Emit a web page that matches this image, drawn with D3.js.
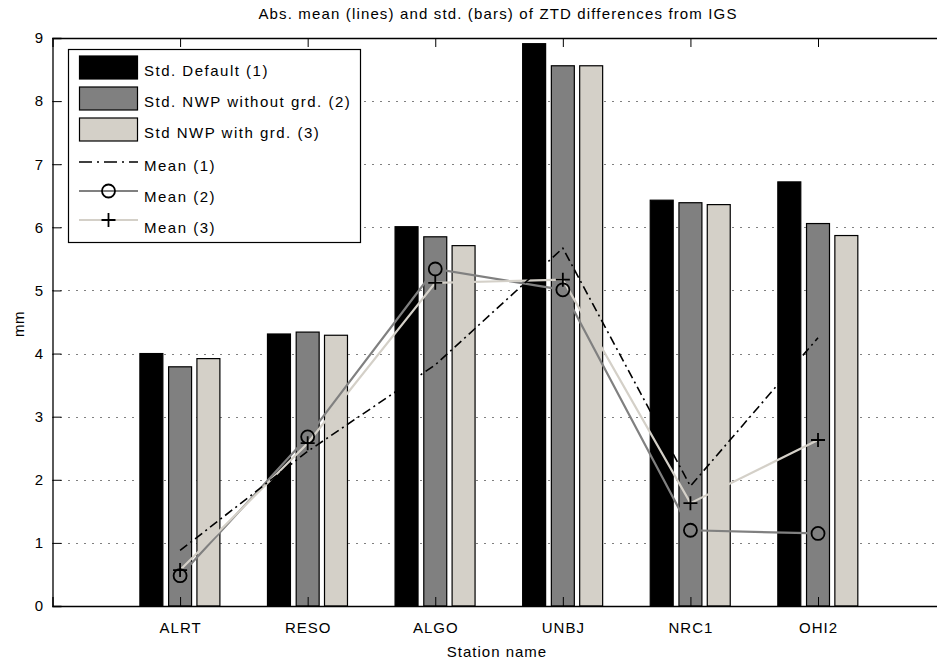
<!DOCTYPE html>
<html><head><meta charset="utf-8">
<script src="https://cdn.jsdelivr.net/npm/d3@7"></script>
<style>
body{margin:0;background:#fff;}
text{font-family:"Liberation Sans",Arial,Helvetica,sans-serif;}
</style></head>
<body><svg id="c" width="937" height="663"></svg>
<script>
const stations = ["ALRT","RESO","ALGO","UNBJ","NRC1","OHI2"];
const stdDefault = [4.00,4.31,6.01,8.91,6.43,6.72];
const stdNoGrd   = [3.79,4.34,5.85,8.56,6.39,6.06];
const stdGrd     = [3.92,4.29,5.71,8.56,6.36,5.87];
const mean1 = [0.88,2.45,3.82,5.67,1.90,4.25];
const mean2 = [0.48,2.68,5.34,5.01,1.20,1.15];
const mean3 = [0.57,2.58,5.12,5.17,1.63,2.63];
const yTicks = [0,1,2,3,4,5,6,7,8,9];
const legendLabels = ["Std. Default (1)","Std. NWP without grd. (2)","Std NWP with grd. (3)","Mean (1)","Mean (2)","Mean (3)"];
const titleText = "Abs. mean (lines) and std. (bars) of ZTD differences from IGS";

const svg = d3.select("#c");
const L=52.5, R=945.6, T=38, B=606;
const x = d3.scaleLinear().domain([0,7]).range([L,R]);
const y = d3.scaleLinear().domain([0,9]).range([B,T]);
const colors = ["#000000","#808080","#d4d0c8"];
const barSeries = [stdDefault,stdNoGrd,stdGrd];
const offs = [-0.225,0,0.222];
const bw = x(0.18)-x(0);

// grid
svg.append("g").selectAll("line").data(yTicks.slice(1)).join("line")
  .attr("x1",L).attr("x2",R).attr("y1",d=>Math.round(y(d))+0.5).attr("y2",d=>Math.round(y(d))+0.5)
  .attr("stroke","#000").attr("stroke-width",1).attr("stroke-dasharray","1,7");

// bars
barSeries.forEach((s,k)=>{
  svg.append("g").selectAll("rect").data(s).join("rect")
    .attr("x",(d,i)=>x(i+1+offs[k])-bw/2).attr("width",bw)
    .attr("y",d=>y(d)).attr("height",d=>B-y(d))
    .attr("fill",colors[k]).attr("stroke","#000").attr("stroke-width",1.2);
});

// lines
const line = d3.line().x((d,i)=>x(i+1)).y(d=>y(d));
svg.append("path").datum(mean2).attr("d",line).attr("fill","none").attr("stroke","#808080").attr("stroke-width",2.2);
svg.append("path").datum(mean3).attr("d",line).attr("fill","none").attr("stroke","#d4d0c8").attr("stroke-width",2.2);
svg.append("path").datum(mean1).attr("d",line).attr("fill","none").attr("stroke","#000").attr("stroke-width",1.6).attr("stroke-dasharray","9,4,2,4");
svg.append("g").selectAll("circle").data(mean2).join("circle")
  .attr("cx",(d,i)=>x(i+1)).attr("cy",d=>y(d)).attr("r",6.5)
  .attr("fill","none").attr("stroke","#000").attr("stroke-width",1.8);
svg.append("g").selectAll("path").data(mean3).join("path")
  .attr("d",(d,i)=>{const cx=x(i+1),cy=y(d);return `M${cx-7},${cy}H${cx+7}M${cx},${cy-7}V${cy+7}`;})
  .attr("stroke","#000").attr("stroke-width",1.8);

// axes box
const yAxis = d3.axisLeft(y).tickValues(yTicks).tickSize(-9).tickPadding(9.5);
svg.append("g").attr("transform",`translate(${L},0)`).call(yAxis)
  .call(g=>{g.select(".domain").attr("stroke-width",1.3);g.selectAll("text").attr("font-size",15).attr("fill","#000").attr("font-family","Liberation Sans, Arial, sans-serif");});
const xAxis = d3.axisBottom(x).tickValues([1,2,3,4,5,6]).tickFormat(d=>stations[d-1]).tickSize(-9).tickPadding(16);
svg.append("g").attr("transform",`translate(0,${B})`).call(xAxis)
  .call(g=>{g.select(".domain").attr("stroke-width",1.3);
    g.selectAll("text").attr("font-size",15).attr("fill","#000").attr("letter-spacing",1).attr("font-family","Liberation Sans, Arial, sans-serif")
     .attr("y",27).attr("dy",0);});
const xTop = d3.axisTop(x).tickValues([1,2,3,4,5,6]).tickFormat("").tickSize(-9);
svg.append("g").attr("transform",`translate(0,${T})`).call(xTop).call(g=>g.select(".domain").attr("stroke-width",1.3));
svg.append("line").attr("x1",R).attr("x2",R).attr("y1",T).attr("y2",B).attr("stroke","#000");

// labels
svg.append("text").attr("x",498).attr("y",19).attr("text-anchor","middle").attr("font-size",15).attr("letter-spacing",1.15).text(titleText);
svg.append("text").attr("x",497).attr("y",657).attr("text-anchor","middle").attr("font-size",15).attr("letter-spacing",1).text("Station name");
svg.append("text").attr("transform","translate(24,324) rotate(-90)").attr("text-anchor","middle").attr("font-size",15).attr("letter-spacing",0.5).text("mm");

// legend
const lg = svg.append("g");
lg.append("rect").attr("x",68.5).attr("y",49.5).attr("width",292).attr("height",193).attr("fill","#fff").attr("stroke","#000").attr("stroke-width",1.2);
const rowY = [68,99,130,162,191,220];
[0,1,2].forEach(k=>{
  lg.append("rect").attr("x",79.5).attr("y",rowY[k]-12).attr("width",58).attr("height",23)
    .attr("fill",colors[k]).attr("stroke","#000").attr("stroke-width",1.2);
});
lg.append("line").attr("x1",79).attr("x2",138).attr("y1",rowY[3]).attr("y2",rowY[3]).attr("stroke","#000").attr("stroke-width",1.6).attr("stroke-dasharray","13,5,2,5");
lg.append("line").attr("x1",79).attr("x2",138).attr("y1",rowY[4]).attr("y2",rowY[4]).attr("stroke","#808080").attr("stroke-width",2.2);
lg.append("circle").attr("cx",108.5).attr("cy",rowY[4]).attr("r",6.5).attr("fill","none").attr("stroke","#000").attr("stroke-width",1.8);
lg.append("line").attr("x1",79).attr("x2",138).attr("y1",rowY[5]).attr("y2",rowY[5]).attr("stroke","#d4d0c8").attr("stroke-width",2.2);
lg.append("path").attr("d",`M${108.5-7},${rowY[5]}H${108.5+7}M108.5,${rowY[5]-7}V${rowY[5]+7}`).attr("stroke","#000").attr("stroke-width",1.8);
lg.selectAll("text.l").data(legendLabels).join("text").attr("class","l")
  .attr("x",144).attr("y",(d,i)=>[71,102,133,166,197,228][i]).attr("dy","0.35em").attr("font-size",15).attr("letter-spacing",1.5).text(d=>d);
</script></body></html>
